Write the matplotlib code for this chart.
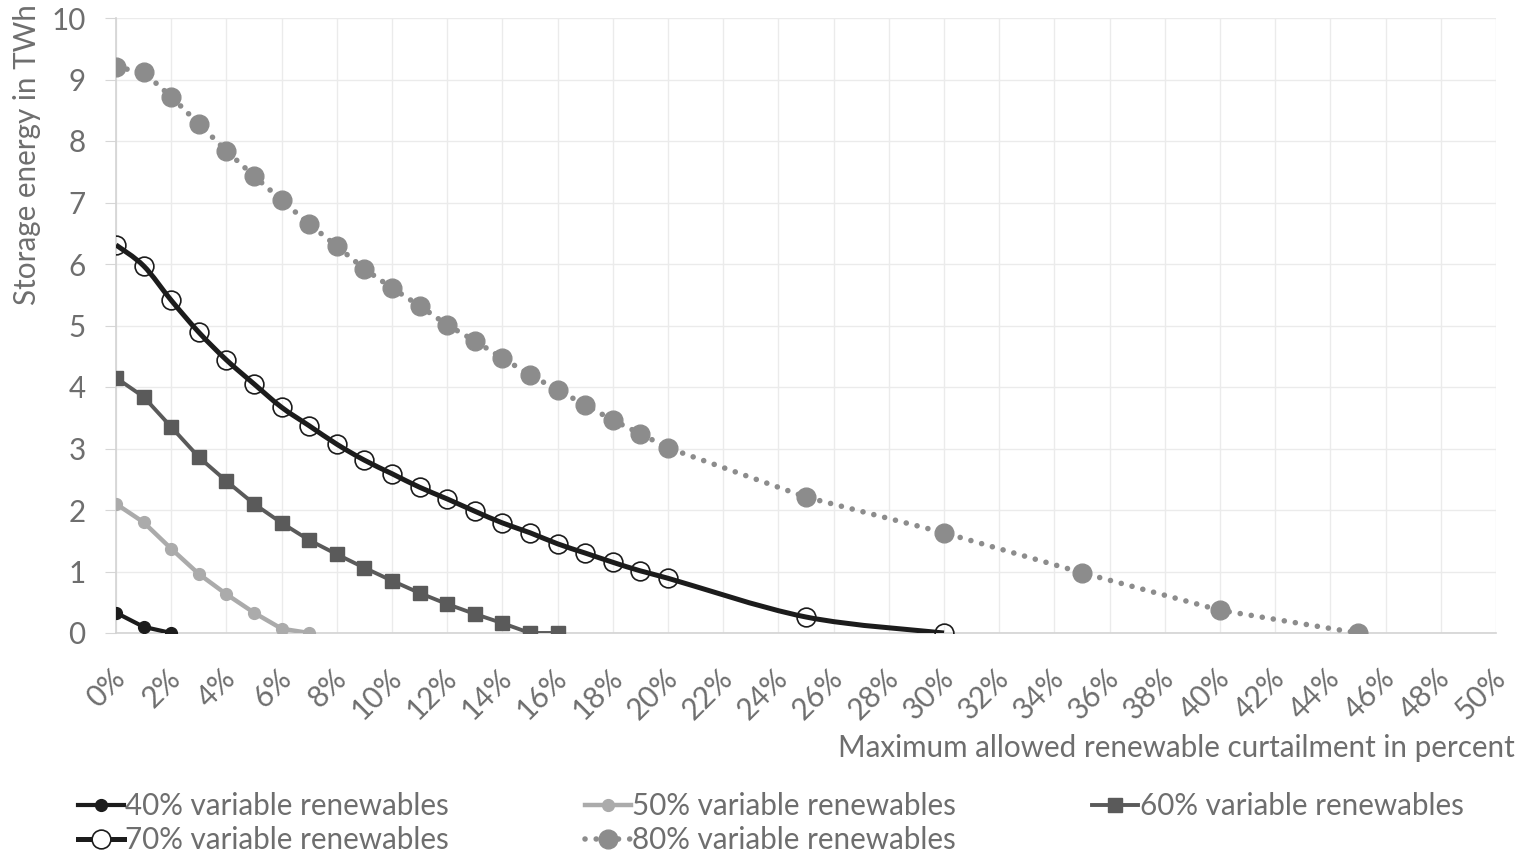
import matplotlib
matplotlib.use("Agg")
import matplotlib.pyplot as plt
import matplotlib.transforms as mtransforms
from matplotlib.lines import Line2D
from matplotlib.path import Path
from matplotlib.patches import PathPatch
import numpy as np

plt.rcParams['font.family'] = ['Lato', 'DejaVu Sans']

# donnees -------------------------------------------------------

x40 = [0, 1, 2]
y40 = [0.33, 0.10, 0.0]

x50 = [0, 1, 2, 3, 4, 5, 6, 7]
y50 = [2.10, 1.80, 1.37, 0.96, 0.63, 0.33, 0.07, 0.0]

x60 = [0, 1, 2, 3, 4, 5, 6, 7, 8, 9, 10, 11, 12, 13, 14, 15, 16]
y60 = [4.15, 3.84, 3.35, 2.86, 2.47, 2.10, 1.79, 1.51, 1.28, 1.06,
       0.85, 0.65, 0.47, 0.31, 0.16, 0.0, 0.0]

x70 = [0, 1, 2, 3, 4, 5, 6, 7, 8, 9, 10, 11, 12, 13, 14, 15, 16, 17, 18, 19, 20, 25, 30]
y70 = [6.31, 5.97, 5.41, 4.89, 4.44, 4.05, 3.67, 3.37, 3.07, 2.81,
       2.59, 2.37, 2.18, 1.98, 1.79, 1.63, 1.45, 1.30, 1.15, 1.01,
       0.89, 0.26, 0.0]

x80 = [0, 1, 2, 3, 4, 5, 6, 7, 8, 9, 10, 11, 12, 13, 14, 15, 16, 17, 18, 19, 20, 25, 30, 35, 40, 45]
y80 = [9.20, 9.12, 8.72, 8.28, 7.84, 7.43, 7.04, 6.65, 6.29, 5.92,
       5.61, 5.32, 5.01, 4.75, 4.47, 4.20, 3.95, 3.71, 3.46, 3.24,
       3.01, 2.21, 1.63, 0.98, 0.37, 0.0]

labels = ["40% variable renewables", "50% variable renewables",
          "60% variable renewables", "70% variable renewables",
          "80% variable renewables"]

xticks = list(range(0, 51, 2))
yticks = list(range(0, 11))

#----------------------------------------------------------------

txt = '#6e6e6e'
fs = 21.3


def smooth_path(xs, ys):
    # courbe lissee type Excel (Catmull-Rom -> Bezier)
    p = np.column_stack([xs, ys]).astype(float)
    n = len(p)
    verts = [p[0]]
    codes = [Path.MOVETO]
    for i in range(n - 1):
        p0 = p[i - 1] if i > 0 else p[i]
        p3 = p[i + 2] if i + 2 < n else p[i + 1]
        c1 = p[i] + (p[i + 1] - p0) / 6.0
        c2 = p[i + 1] - (p3 - p[i]) / 6.0
        verts += [c1, c2, p[i + 1]]
        codes += [Path.CURVE4] * 3
    return Path(verts, codes)


fig = plt.figure(figsize=(15.24, 8.56), dpi=100)
ax = fig.add_axes([116 / 1524, 1 - 633 / 856, (1496 - 116) / 1524, (633 - 18) / 856])

l40, = ax.plot(x40, y40, color='#1c1c1c', lw=3, marker='o', ms=8.5, zorder=3)
l50, = ax.plot(x50, y50, color='#ababab', lw=3.2, marker='o', ms=8.5, zorder=3)
l60, = ax.plot(x60, y60, color='#5a5a5a', lw=2.8, marker='s', ms=10, zorder=3)

patch = PathPatch(smooth_path(x70, y70), fill=False, edgecolor='#1c1c1c', lw=3.6, zorder=4)
ax.add_patch(patch)
ax.plot(x70, y70, linestyle='none', marker='o', ms=13.5, mfc='none', mec='#1c1c1c', mew=1.2, zorder=5)
l70 = Line2D([], [], color='#1c1c1c', lw=3.6, marker='o', ms=13.5, mfc='white', mec='#1c1c1c', mew=1.2)

l80, = ax.plot(x80, y80, color='#8c8c8c', lw=4, linestyle=(0, (0.01, 2)),
               dash_capstyle='round', marker='o', ms=13.5, zorder=3)

ax.set_xlim(0, 50)
ax.set_ylim(0, 10)
ax.set_xticks(xticks)
ax.set_xticklabels([str(v) + "%" for v in xticks], rotation=45, ha='right',
                   rotation_mode='anchor', fontsize=fs, color=txt)
ax.set_yticks(yticks)
ax.set_yticklabels([str(v) for v in yticks], fontsize=fs, color=txt)
ax.tick_params(axis='x', length=0, pad=22)
ax.tick_params(axis='y', length=8, color='#d6d6d6', pad=14)

# petit decalage des etiquettes x vers la gauche
shift = mtransforms.ScaledTranslation(-5 / 100, 0, fig.dpi_scale_trans)
for lab in ax.get_xticklabels():
    lab.set_transform(lab.get_transform() + shift)

ax.grid(True, color='#ebebeb', lw=1)
ax.set_axisbelow(True)
for s in ['top', 'right']:
    ax.spines[s].set_visible(False)
for s in ['left', 'bottom']:
    ax.spines[s].set_color('#d3d3d3')
    ax.spines[s].set_linewidth(1.2)

fig.text(1515 / 1524, 1 - 748 / 856, "Maximum allowed renewable curtailment in percent",
         ha='right', va='center', fontsize=fs, color=txt)
fig.text(27 / 1524, 1 - 4 / 856, "Storage energy in TWh", rotation=90,
         ha='center', va='top', fontsize=fs, color=txt)

handles = [l40, l70, l50, l80, l60]
names = [labels[0], labels[3], labels[1], labels[4], labels[2]]
fig.legend(handles, names, loc='upper left', bbox_to_anchor=(78 / 1524, 1 - 792 / 856),
           ncol=3, frameon=False, fontsize=fs, labelcolor=txt, handlelength=1.55,
           handletextpad=0.05, columnspacing=4.6, labelspacing=0.2, borderaxespad=0,
           borderpad=0)

fig.savefig("out.png", dpi=100)
